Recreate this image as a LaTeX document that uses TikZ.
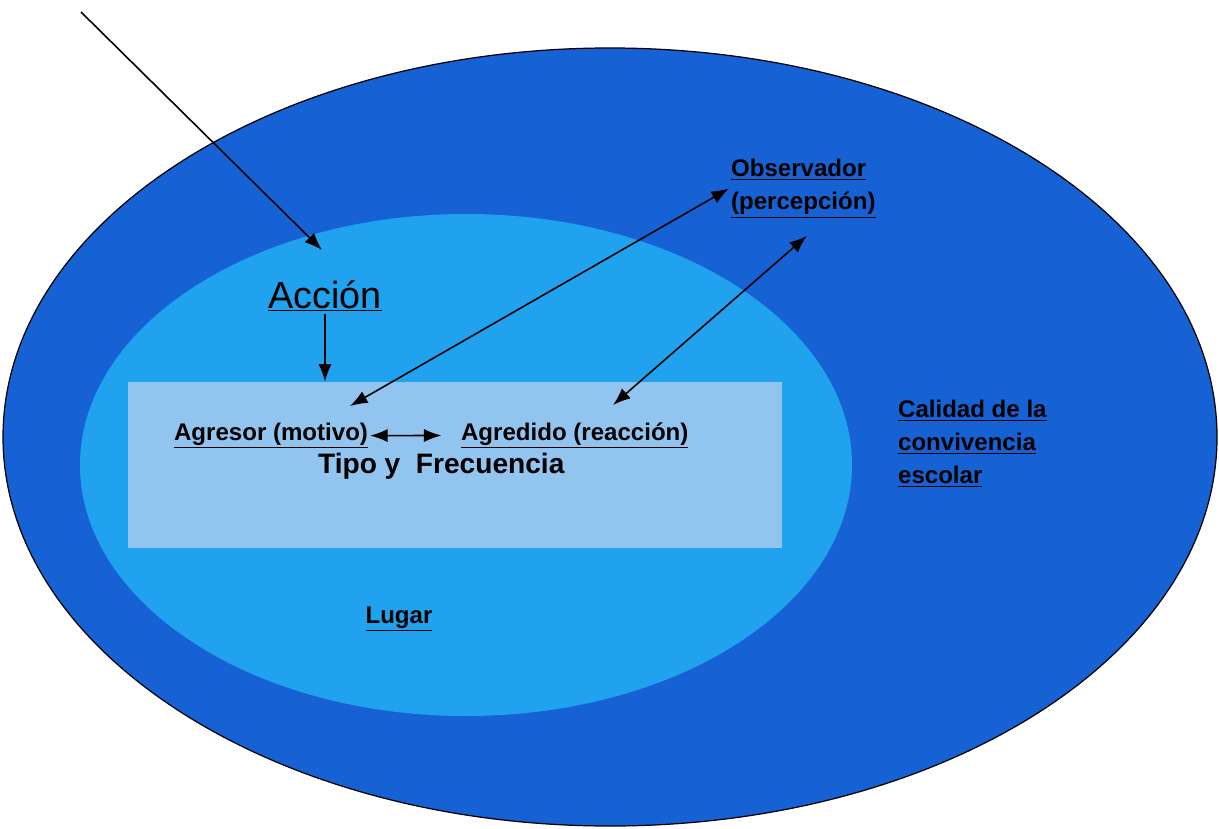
\documentclass[tikz,border=0pt]{standalone}
\usepackage{fontspec}
\setmainfont{Liberation Sans}
\usepackage{xcolor}
\usetikzlibrary{positioning, arrows.meta}

\definecolor{azulfondo}{RGB}{22,98,212}
\definecolor{azulclaro}{RGB}{32,162,238}
\definecolor{azulpalido}{RGB}{146,196,240}

\begin{document}
\begin{tikzpicture}[x=0.02cm, y=-0.02cm,
        etiq/.style={font=\fontsize{13.7}{18.7}\selectfont\bfseries, inner sep=1pt, text=black},
        flecha/.style={-{Latex[length=10pt, width=7.5pt]}, line width=0.9pt},
        ambas/.style={{Latex[length=10pt, width=7.5pt]}-{Latex[length=10pt, width=7.5pt]}, line width=0.9pt}]
    \useasboundingbox (0,0) rectangle (1219,828);

    % zonas
    \fill[azulfondo, draw=black, line width=0.7pt] (610,437) ellipse [x radius=607, y radius=389];
    \fill[azulclaro] (466,465) ellipse [x radius=386, y radius=251];
    \node[fill=azulpalido, minimum width=13.08cm, minimum height=3.32cm, inner sep=0pt] (campo) at (455,465) {};

    % textos
    \node[anchor=base, inner sep=1pt, font=\fontsize{21.5}{24}\selectfont] (accion) at (325,308) {\underline{Acción}};
    \node[etiq, anchor=base west] (agresor) at (172,440) {\underline{Agresor (motivo)}};
    \node[etiq, anchor=base west] (agredido) at (459,440) {\underline{Agredido (reacción)}};
    \node[anchor=base west, inner sep=1pt, font=\fontsize{16}{19}\selectfont\bfseries] (tipo) at (316,473) {Tipo y\ \ Frecuencia};
    \node[etiq, anchor=north west, align=left] (obs) at (729,157) {\underline{Observador}\\\underline{(percepción)}};
    \node[etiq, anchor=north west, align=left] (calidad) at (896,398) {\underline{Calidad de la}\\\underline{convivencia}\\\underline{escolar}};
    \node[etiq, anchor=base] (lugar) at (399,623) {\underline{Lugar}};

    \coordinate (origen) at (81,12);
    \coordinate (entrada) at (322,250);
    \coordinate (motivo) at (350,406);
    \coordinate (reaccion) at (613,405);

    % flechas
    \draw[flecha] (origen) -- (entrada);
    \draw[flecha] (accion.south) -- (accion.south |- campo.north);
    \draw[ambas, shorten >=10pt] (agresor.east) -- (agredido.west);
    \draw[ambas] (motivo) -- (obs.west);
    \draw[ambas] (reaccion) -- ([xshift=2pt, yshift=-9pt]obs.south);
\end{tikzpicture}
\end{document}
